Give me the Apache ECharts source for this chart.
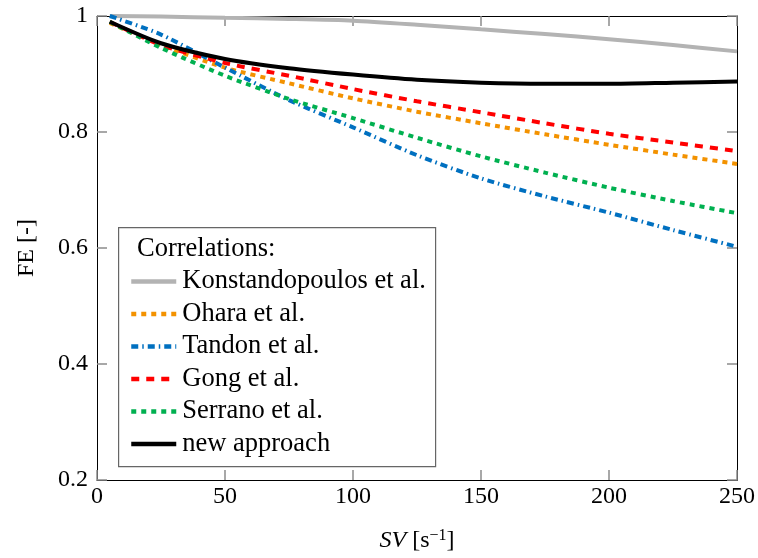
<!DOCTYPE html>
<html>
<head>
<meta charset="utf-8">
<script src="https://cdn.jsdelivr.net/npm/echarts@6/dist/echarts.min.js"></script>
<style>html,body{margin:0;padding:0;background:#fff;}#c{width:758px;height:558px;}</style>
</head>
<body>
<div id="c"></div>
<script>
const xs = [5, 25, 50, 75, 100, 125, 150, 175, 200, 225, 250];
const konstandopoulos = [1.0, 0.999, 0.997, 0.995, 0.992, 0.985, 0.977, 0.969, 0.960, 0.950, 0.939];
const ohara = [0.988, 0.950, 0.911, 0.884, 0.858, 0.835, 0.815, 0.796, 0.778, 0.761, 0.745];
const tandon = [1.0, 0.968, 0.911, 0.855, 0.808, 0.760, 0.720, 0.689, 0.661, 0.631, 0.602];
const gong = [0.99, 0.950, 0.919, 0.897, 0.874, 0.853, 0.834, 0.815, 0.797, 0.782, 0.767];
const serrano = [0.99, 0.945, 0.897, 0.857, 0.824, 0.790, 0.758, 0.730, 0.704, 0.681, 0.660];
const newApproach = [0.990, 0.953, 0.926, 0.910, 0.899, 0.890, 0.885, 0.883, 0.883, 0.885, 0.887];
const seriesNames = ['Konstandopoulos et al.', 'Ohara et al.', 'Tandon et al.', 'Gong et al.', 'Serrano et al.', 'new approach'];
const xTicks = [0, 50, 100, 150, 200, 250];
const yTicks = [0.2, 0.4, 0.6, 0.8, 1];

const FONT = 'Liberation Serif';
const pairs = arr => xs.map((x, i) => [x, arr[i]]);
function mk(name, arr, color, width, type) {
  return {
    name: name, type: 'line', data: pairs(arr), smooth: 0.25, symbol: 'none', showSymbol: false,
    lineStyle: { color: color, width: width, type: type, cap: 'butt' },
    itemStyle: { color: color }, clip: true, animation: false, z: 3
  };
}
const tick = () => ({ show: true, inside: true, length: 10, lineStyle: { color: '#8c8c8c', width: 1.5 } });
const line = () => ({ show: true, onZero: false, lineStyle: { color: '#000', width: 1 } });
const chart = echarts.init(document.getElementById('c'), null, { renderer: 'canvas' });
chart.setOption({
  animation: false,
  backgroundColor: '#fff',
  grid: { left: 97, right: 21, top: 16, bottom: 77, containLabel: false },
  xAxis: [{
    type: 'value', min: xTicks[0], max: xTicks[xTicks.length - 1], interval: 50,
    axisLine: line(), axisTick: tick(), splitLine: { show: false },
    axisLabel: { color: '#000', fontFamily: FONT, fontSize: 24, margin: 5 },
    name: '{it|SV} [s{sup|−1}]', nameLocation: 'middle', nameGap: 48,
    nameTextStyle: { color: '#000', fontFamily: FONT, fontSize: 24,
      rich: { it: { fontStyle: 'italic', fontFamily: FONT, fontSize: 24, color: '#000' },
              sup: { fontFamily: FONT, fontSize: 16, color: '#000', verticalAlign: 'bottom', padding: [0, 0, 10, 0] } } }
  }, {
    type: 'value', position: 'top', min: xTicks[0], max: xTicks[xTicks.length - 1], interval: 50,
    axisLine: line(), axisTick: tick(), axisLabel: { show: false }, splitLine: { show: false }
  }],
  yAxis: [{
    type: 'value', min: yTicks[0], max: yTicks[yTicks.length - 1], interval: 0.2,
    axisLine: line(), axisTick: tick(), splitLine: { show: false },
    axisLabel: { color: '#000', fontFamily: FONT, fontSize: 24, margin: 9 },
    name: 'FE [-]', nameLocation: 'middle', nameGap: 58, nameRotate: 90,
    nameTextStyle: { color: '#000', fontFamily: FONT, fontSize: 24 }
  }, {
    type: 'value', position: 'right', min: yTicks[0], max: yTicks[yTicks.length - 1], interval: 0.2,
    axisLine: line(), axisTick: tick(), axisLabel: { show: false }, splitLine: { show: false }
  }],
  legend: {
    orient: 'vertical', left: 129, top: 268, itemWidth: 45, itemHeight: 14, itemGap: 5.5,
    padding: 0, z: 20,
    itemStyle: { opacity: 0, borderWidth: 0 },
    lineStyle: { width: 4.5, cap: 'butt' },
    textStyle: { fontFamily: FONT, fontSize: 26.5, color: '#000', lineHeight: 27, padding: [0, 0, 0, 1] },
    data: seriesNames
  },
  graphic: [
    { type: 'rect', left: 118, top: 227, z: 1, silent: true, shape: { width: 317, height: 239 },
      style: { fill: '#fff', stroke: '#666', lineWidth: 1.2 } },
    { type: 'text', left: 137, top: 236, z: 2, silent: true,
      style: { text: 'Correlations:', font: '26.5px "Liberation Serif"', fill: '#000' } }
  ],
  series: [
    mk(seriesNames[0], konstandopoulos, '#b3b3b3', 4, 'solid'),
    mk(seriesNames[1], ohara, '#f39200', 4, [5, 5]),
    mk(seriesNames[2], tandon, '#0070c0', 4, [7, 4, 1.5, 4]),
    mk(seriesNames[3], gong, '#ff0000', 4, [8, 7]),
    mk(seriesNames[4], serrano, '#00b050', 4, [5, 5]),
    mk(seriesNames[5], newApproach, '#000000', 4, 'solid')
  ]
});
</script>
</body>
</html>
